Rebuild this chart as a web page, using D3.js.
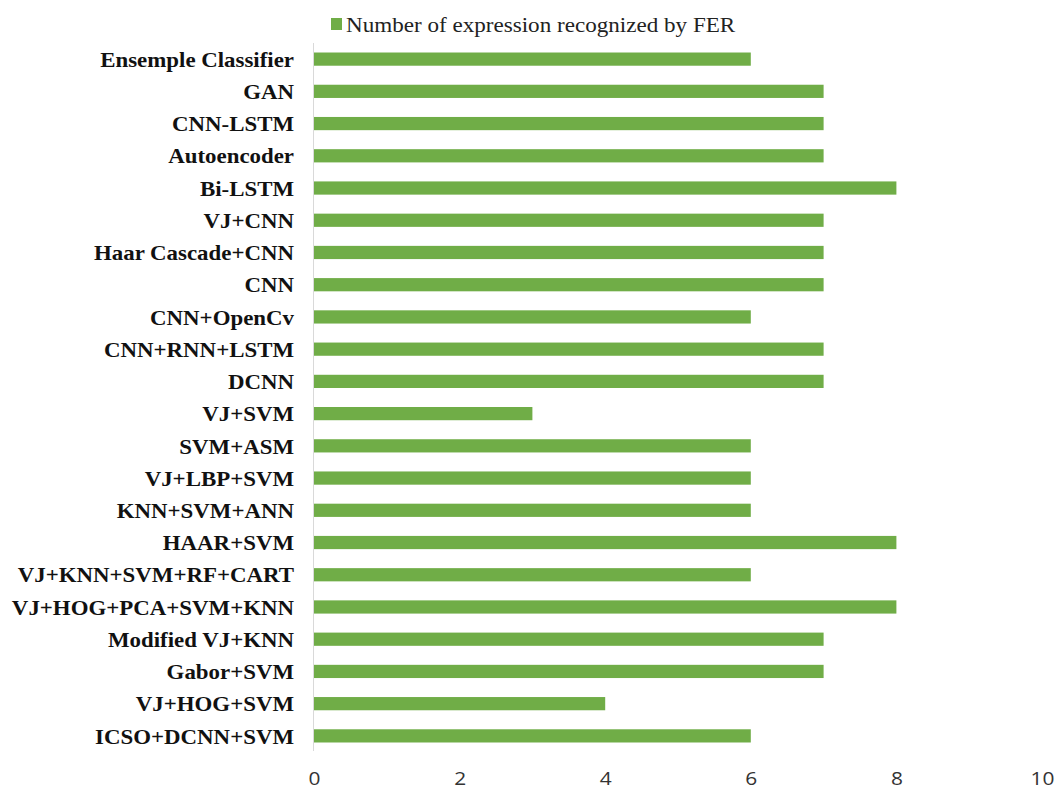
<!DOCTYPE html>
<html><head><meta charset="utf-8">
<script src="https://cdn.jsdelivr.net/npm/d3@7"></script>
<style>body{margin:0;background:#fff;} svg{display:block;}</style>
</head><body>
<svg id="c" width="1056" height="790"></svg>
<script>
const categories = ["Ensemple Classifier","GAN","CNN-LSTM","Autoencoder","Bi-LSTM","VJ+CNN","Haar Cascade+CNN","CNN","CNN+OpenCv","CNN+RNN+LSTM","DCNN","VJ+SVM","SVM+ASM","VJ+LBP+SVM","KNN+SVM+ANN","HAAR+SVM","VJ+KNN+SVM+RF+CART","VJ+HOG+PCA+SVM+KNN","Modified VJ+KNN","Gabor+SVM","VJ+HOG+SVM","ICSO+DCNN+SVM"];
const values = [6,7,7,7,8,7,7,7,6,7,7,3,6,6,6,8,6,8,7,7,4,6];
const xTicks = [0,2,4,6,8,10];
const seriesName = "Number of expression recognized by FER";

const svg = d3.select("#c");
const x = d3.scaleLinear().domain([0,10]).range([314,1042]);
const y = d3.scaleBand().domain(categories).range([43,752]).paddingInner(0.59).paddingOuter(0.295);

svg.append("line").attr("x1",313.5).attr("x2",313.5).attr("y1",43).attr("y2",751)
  .attr("stroke","#d9d9d9").attr("stroke-width",1);

svg.selectAll("rect.bar").data(categories).enter().append("rect")
  .attr("class","bar")
  .attr("x",x(0)).attr("y",d=>y(d))
  .attr("width",(d,i)=>x(values[i])-x(0)).attr("height",y.bandwidth())
  .attr("fill","#70AD47");

svg.selectAll("text.cat").data(categories).enter().append("text")
  .attr("class","cat")
  .attr("transform",d=>`translate(294,${y(d)+y.bandwidth()/2}) scale(1.04,1)`)
  .attr("dy","0.35em").attr("text-anchor","end")
  .attr("font-family","'Liberation Serif','Times New Roman',serif")
  .attr("font-weight","bold").attr("font-size",22).attr("fill","#111")
  .text(d=>d);

const xAxis = d3.axisBottom(x).tickValues(xTicks).tickSize(0).tickPadding(0);
const gx = svg.append("g").attr("transform","translate(0,772)").call(xAxis);
gx.select(".domain").remove();
gx.selectAll("text").attr("font-family","'Open Sans','Liberation Sans',sans-serif")
  .attr("font-size",19).attr("fill","#333").attr("transform","scale(1.1,1)");

const lg = svg.append("g");
lg.append("rect").attr("x",331).attr("y",18).attr("width",11).attr("height",12).attr("fill","#70AD47");
lg.append("text").attr("transform","translate(346,31.5) scale(1.05,1)")
  .attr("font-family","'Liberation Serif','Times New Roman',serif")
  .attr("font-size",22).attr("fill","#222").text(seriesName);
</script>
</body></html>
